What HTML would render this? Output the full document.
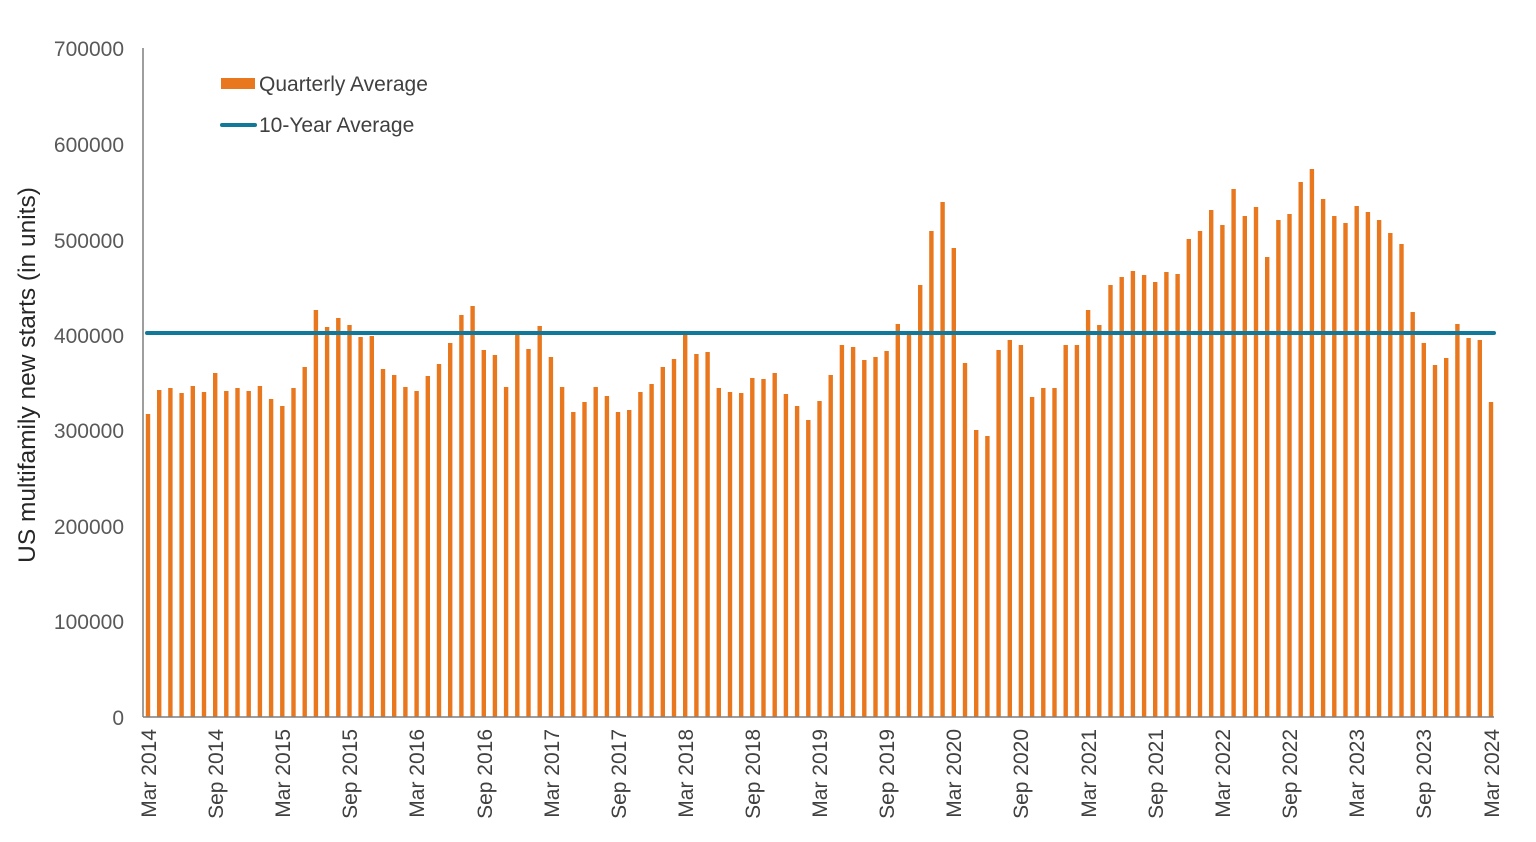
<!DOCTYPE html>
<html><head><meta charset="utf-8"><style>
html,body{margin:0;padding:0;background:#fff;}
svg{display:block;font-family:"Liberation Sans",Arial,sans-serif;}
</style></head><body>
<svg id="c" width="1536" height="842" viewBox="0 0 1536 842" xmlns="http://www.w3.org/2000/svg">
<g id="bars" fill="#E8771E"></g>
<line x1="147" y1="333" x2="1494" y2="333" stroke="#12789A" stroke-width="4" stroke-linecap="round"/>
<line x1="143" y1="48" x2="143" y2="717" stroke="#7f7f7f" stroke-width="1.5"/>
<line x1="143" y1="717" x2="1494" y2="717" stroke="#7f7f7f" stroke-width="1.5"/>
<g font-size="21" fill="#595959" text-anchor="end">
<text x="124" y="56">700000</text>
<text x="124" y="152">600000</text>
<text x="124" y="248">500000</text>
<text x="124" y="343">400000</text>
<text x="124" y="438">300000</text>
<text x="124" y="534">200000</text>
<text x="124" y="629">100000</text>
<text x="124" y="725">0</text>
</g>
<text transform="translate(35,375) rotate(-90)" font-size="24.5" fill="#262626" text-anchor="middle">US multifamily new starts (in units)</text>
<rect x="221" y="78" width="34" height="11" fill="#E8771E"/>
<text x="259" y="91" font-size="21" fill="#404040">Quarterly Average</text>
<line x1="222" y1="125" x2="255" y2="125" stroke="#12789A" stroke-width="4" stroke-linecap="round"/>
<text x="259" y="132" font-size="21" fill="#404040">10-Year Average</text>
<g id="xl" font-size="21" fill="#404040" text-anchor="end">
<text transform="translate(156,729) rotate(-90)">Mar 2014</text>
<text transform="translate(223,729) rotate(-90)">Sep 2014</text>
<text transform="translate(290,729) rotate(-90)">Mar 2015</text>
<text transform="translate(357,729) rotate(-90)">Sep 2015</text>
<text transform="translate(424,729) rotate(-90)">Mar 2016</text>
<text transform="translate(492,729) rotate(-90)">Sep 2016</text>
<text transform="translate(559,729) rotate(-90)">Mar 2017</text>
<text transform="translate(626,729) rotate(-90)">Sep 2017</text>
<text transform="translate(693,729) rotate(-90)">Mar 2018</text>
<text transform="translate(760,729) rotate(-90)">Sep 2018</text>
<text transform="translate(827,729) rotate(-90)">Mar 2019</text>
<text transform="translate(894,729) rotate(-90)">Sep 2019</text>
<text transform="translate(961,729) rotate(-90)">Mar 2020</text>
<text transform="translate(1028,729) rotate(-90)">Sep 2020</text>
<text transform="translate(1096,729) rotate(-90)">Mar 2021</text>
<text transform="translate(1163,729) rotate(-90)">Sep 2021</text>
<text transform="translate(1230,729) rotate(-90)">Mar 2022</text>
<text transform="translate(1297,729) rotate(-90)">Sep 2022</text>
<text transform="translate(1364,729) rotate(-90)">Mar 2023</text>
<text transform="translate(1431,729) rotate(-90)">Sep 2023</text>
<text transform="translate(1499,729) rotate(-90)">Mar 2024</text>
</g>
</svg>
<script>
var t=[414,390,388,393,386,392,373,391,388,391,386,399,406,388,367,310,327,318,325,337,336,369,375,387,391,376,364,343,315,306,350,355,387,335,349,326,357,387,412,402,387,
396,412,410,392,384,367,359,334,354,352,388,392,393,378,379,373,394,406,420,401,375,345,347,360,357,351,324,335,285,231,202,248,363,430,436,350,340,345,397,388,
388,345,345,310,325,285,277,271,275,282,272,274,239,231,210,225,189,216,207,257,220,214,182,169,199,216,223,206,212,220,233,244,312,343,365,358,324,338,340,402];
var g=document.getElementById('bars'),ns="http://www.w3.org/2000/svg",s=(1491-148)/120;
for(var i=0;i<t.length;i++){var r=document.createElementNS(ns,'rect');var x=148+i*s;
r.setAttribute('x',(x-2.2).toFixed(1));r.setAttribute('y',t[i]);r.setAttribute('width','4.4');r.setAttribute('height',717-t[i]);g.appendChild(r);}
</script>
</body></html>
